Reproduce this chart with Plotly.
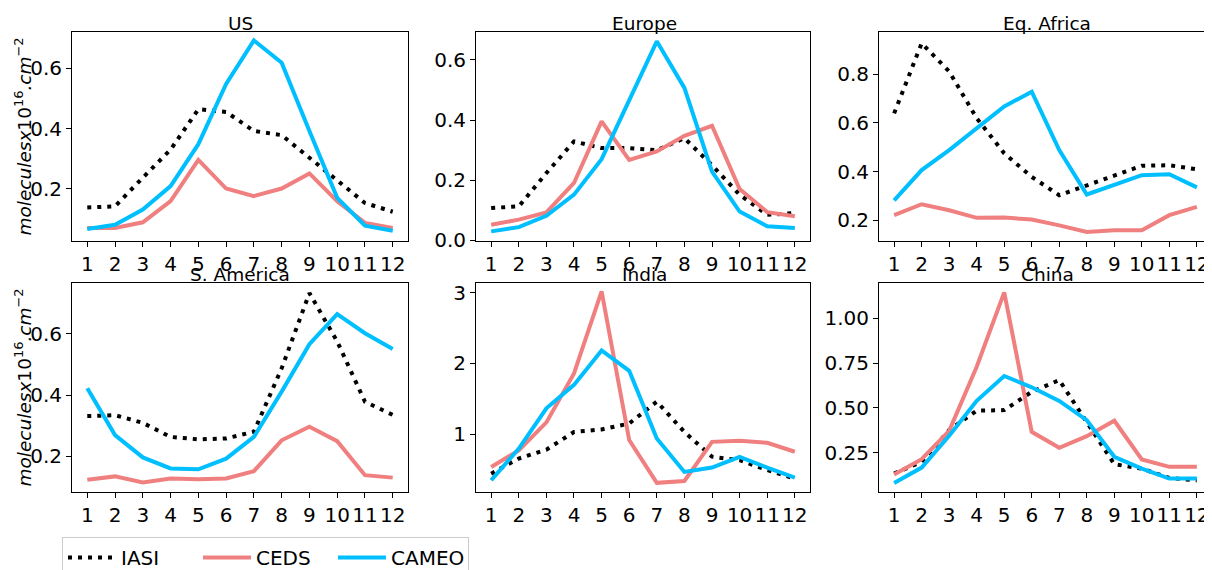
import plotly.graph_objects as go

months = list(range(1, 13))
regions = ["US", "Europe", "Eq. Africa", "S. America", "India", "China"]
series_names = ["IASI", "CEDS", "CAMEO"]

us_iasi = [0.138, 0.142, 0.237, 0.33, 0.464, 0.455, 0.392, 0.378, 0.303, 0.226, 0.153, 0.124]
us_ceds = [0.07, 0.07, 0.089, 0.159, 0.296, 0.201, 0.176, 0.201, 0.251, 0.159, 0.087, 0.07]
us_cameo = [0.067, 0.081, 0.131, 0.209, 0.348, 0.548, 0.692, 0.618, 0.392, 0.17, 0.078, 0.061]

eu_iasi = [0.108, 0.113, 0.224, 0.329, 0.307, 0.307, 0.30, 0.34, 0.25, 0.152, 0.085, 0.091]
eu_ceds = [0.052, 0.069, 0.093, 0.191, 0.396, 0.268, 0.296, 0.348, 0.381, 0.171, 0.094, 0.08]
eu_cameo = [0.03, 0.044, 0.082, 0.152, 0.27, 0.468, 0.662, 0.507, 0.229, 0.096, 0.047, 0.041]

af_iasi = [0.639, 0.927, 0.811, 0.619, 0.475, 0.378, 0.303, 0.344, 0.385, 0.424, 0.426, 0.409]
af_ceds = [0.221, 0.266, 0.241, 0.21, 0.211, 0.203, 0.179, 0.152, 0.159, 0.159, 0.221, 0.255]
af_cameo = [0.282, 0.406, 0.488, 0.577, 0.667, 0.728, 0.488, 0.306, 0.344, 0.385, 0.389, 0.335]

sa_iasi = [0.331, 0.334, 0.309, 0.263, 0.255, 0.258, 0.28, 0.487, 0.733, 0.575, 0.378, 0.335]
sa_ceds = [0.123, 0.134, 0.114, 0.127, 0.125, 0.127, 0.151, 0.252, 0.296, 0.249, 0.138, 0.13]
sa_cameo = [0.422, 0.269, 0.196, 0.16, 0.157, 0.192, 0.263, 0.411, 0.566, 0.664, 0.602, 0.55]

in_iasi = [0.44, 0.654, 0.78, 1.03, 1.066, 1.15, 1.46, 1.03, 0.68, 0.63, 0.49, 0.37]
in_ceds = [0.535, 0.77, 1.166, 1.86, 3.02, 0.915, 0.31, 0.336, 0.89, 0.905, 0.877, 0.75]
in_cameo = [0.346, 0.796, 1.365, 1.697, 2.185, 1.896, 0.938, 0.464, 0.526, 0.678, 0.526, 0.384]

cn_iasi = [0.135, 0.2, 0.377, 0.485, 0.488, 0.59, 0.655, 0.42, 0.187, 0.162, 0.11, 0.097]
cn_ceds = [0.129, 0.215, 0.373, 0.73, 1.144, 0.367, 0.278, 0.343, 0.429, 0.213, 0.172, 0.172]
cn_cameo = [0.082, 0.168, 0.345, 0.54, 0.678, 0.615, 0.539, 0.432, 0.228, 0.162, 0.107, 0.107]

data = [
    (us_iasi, us_ceds, us_cameo),
    (eu_iasi, eu_ceds, eu_cameo),
    (af_iasi, af_ceds, af_cameo),
    (sa_iasi, sa_ceds, sa_cameo),
    (in_iasi, in_ceds, in_cameo),
    (cn_iasi, cn_ceds, cn_cameo),
]

ytick_vals = [
    [0.2, 0.4, 0.6],
    [0.0, 0.2, 0.4, 0.6],
    [0.2, 0.4, 0.6, 0.8],
    [0.2, 0.4, 0.6],
    [1, 2, 3],
    [0.25, 0.5, 0.75, 1.0],
]
ytick_text = [
    ["0.2", "0.4", "0.6"],
    ["0.0", "0.2", "0.4", "0.6"],
    ["0.2", "0.4", "0.6", "0.8"],
    ["0.2", "0.4", "0.6"],
    ["1", "2", "3"],
    ["0.25", "0.50", "0.75", "1.00"],
]
yranges = [
    [0.027, 0.72],
    [-0.002, 0.693],
    [0.115, 0.973],
    [0.083, 0.766],
    [0.18, 3.14],
    [0.032, 1.196],
]

# page body has an 8px margin; figure is positioned to compensate.
# The figure extends below the visible window so the legend box is cut
# at the bottom edge, as in the reference.
OFF = 8
W, H = 1212 - OFF, 600
col_px = [(72, 408), (476, 810), (879, 1212)]
row_px = [(32, 241), (283, 492)]

styles = [
    dict(color="black", width=4, dash="4px,6px"),
    dict(color="#F08080", width=4),
    dict(color="#00BFFF", width=4),
]

FONT = "DejaVu Sans"
TICK = 20
fig = go.Figure()
layout = dict(
    width=W, height=H,
    margin=dict(l=0, r=0, t=0, b=0),
    paper_bgcolor="white", plot_bgcolor="white",
    font=dict(family=FONT, size=TICK, color="black"),
    showlegend=True,
)
annotations = []

for i, region in enumerate(regions):
    r, c = divmod(i, 3)
    xa = "xaxis" if i == 0 else f"xaxis{i+1}"
    ya = "yaxis" if i == 0 else f"yaxis{i+1}"
    xref = "x" if i == 0 else f"x{i+1}"
    yref = "y" if i == 0 else f"y{i+1}"
    x0, x1 = (v - OFF for v in col_px[c])
    y0, y1 = (v - OFF for v in row_px[r])
    xd = [x0 / W, min(x1 / W, 1.0)]
    yd = [1 - y1 / H, 1 - y0 / H]
    axis_common = dict(
        ticks="outside", ticklen=5, tickwidth=1, tickcolor="black",
        showline=True, linecolor="black", linewidth=1, mirror=True,
        showgrid=False, zeroline=False, automargin=False,
        tickfont=dict(size=TICK, family=FONT),
    )
    layout[xa] = dict(
        domain=xd, anchor=yref, range=[0.45, 12.55],
        tickvals=months, ticktext=[str(m) for m in months], **axis_common,
    )
    layout[ya] = dict(
        domain=yd, anchor=xref, range=yranges[i],
        tickvals=ytick_vals[i], ticktext=ytick_text[i], **axis_common,
    )
    for k, (name, ys) in enumerate(zip(series_names, data[i])):
        fig.add_trace(go.Scatter(
            x=months, y=ys, mode="lines", name=name,
            line=styles[k], xaxis=xref, yaxis=yref,
            showlegend=(i == 0), legendrank=k + 1,
        ))
    annotations.append(dict(
        text=region, x=(x0 + 168) / W,
        y=yd[1], xref="paper", yref="paper",
        xanchor="center", yanchor="bottom", showarrow=False,
        font=dict(size=18.5, family=FONT), yshift=-4,
    ))
    if c == 0:
        annotations.append(dict(
            text="<i>moleculesx</i>10<sup>16</sup><i>.cm</i><sup>−2</sup>",
            x=(24 - OFF) / W, y=(yd[0] + yd[1]) / 2, xref="paper", yref="paper",
            xanchor="center", yanchor="middle", textangle=-90, showarrow=False,
            font=dict(size=18.5, family=FONT),
        ))

layout["annotations"] = annotations
layout["legend"] = dict(
    orientation="h", x=(62 - OFF) / W, y=1 - (537 - OFF) / H,
    xanchor="left", yanchor="top",
    bgcolor="white", bordercolor="#cccccc", borderwidth=1,
    font=dict(size=20, family=FONT), itemwidth=48,
    entrywidth=72, entrywidthmode="pixels", traceorder="normal",
)
fig.update_layout(**layout)
fig.write_html("out.html")
